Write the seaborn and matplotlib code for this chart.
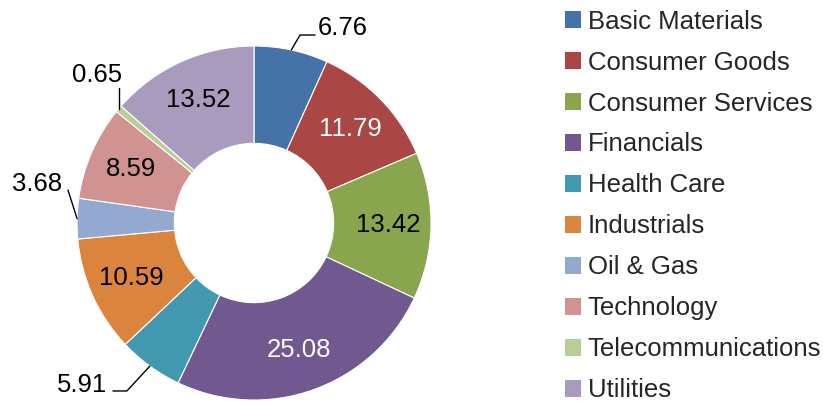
import numpy as np
import matplotlib.pyplot as plt
import seaborn as sns
from matplotlib.patches import Patch

# sector weights (%)
sectors = ["Basic Materials", "Consumer Goods", "Consumer Services", "Financials",
           "Health Care", "Industrials", "Oil & Gas", "Technology",
           "Telecommunications", "Utilities"]
weights = [6.76, 11.79, 13.42, 25.08, 5.91, 10.59, 3.68, 8.59, 0.65, 13.52]
colors = ["#4572A7", "#AA4643", "#89A54E", "#71588F", "#4198AF",
          "#DB843D", "#93A9CF", "#D19392", "#B9CD96", "#A99BBD"]
white_text = ["Consumer Goods", "Financials"]

# labels placed outside the ring: leader knee points and text anchor (radius units)
outside = {
    "Basic Materials": dict(pts=[(0.26, 1.062), (0.345, 1.062)], xy=(0.362, 1.062), ha="left"),
    "Telecommunications": dict(pts=[(None, 0.763)], xy=(-0.887, 0.797), ha="center"),
    "Oil & Gas": dict(pts=[(-1.051, 0.186)], xy=(-1.085, 0.181), ha="right"),
    "Health Care": dict(pts=[(-0.718, -0.949), (-0.797, -0.949)], xy=(-0.83, -0.955), ha="right"),
}

sns.set_style("white")
plt.rcParams['font.family'] = ['Liberation Sans', 'DejaVu Sans']
fs = 18.5

fig = plt.figure(figsize=(8.23, 4.01), dpi=100)
ax = fig.add_axes([77 / 823, 1 / 401, 354 / 823, 354 / 401])

ax.pie(weights, colors=sns.color_palette(colors), startangle=90, counterclock=False,
       radius=1, wedgeprops=dict(width=0.55, edgecolor="white", linewidth=0.8))
ax.set_xlim(-1, 1)
ax.set_ylim(-1, 1)
ax.axis("off")

total = sum(weights)
cum = np.cumsum(weights)
for name, w, c in zip(sectors, weights, cum):
    ang = np.deg2rad(90 - 360 * (c - w / 2) / total)
    ex, ey = np.cos(ang), np.sin(ang)
    if name in outside:
        lay = outside[name]
        xs, ys = [ex], [ey]
        for px, py in lay["pts"]:
            xs.append(ex if px is None else px)
            ys.append(py)
        ax.plot(xs, ys, color="black", lw=1, clip_on=False)
        ax.text(lay["xy"][0], lay["xy"][1], f"{w:.2f}", ha=lay["ha"], va="baseline",
                fontsize=fs, color="black")
    else:
        r = 0.76
        ax.text(r * ex, r * ey, f"{w:.2f}", ha="center", va="center", fontsize=fs,
                color="white" if name in white_text else "black")

handles = [Patch(facecolor=c, edgecolor="none", label=s) for s, c in zip(sectors, colors)]
fig.legend(handles=handles, loc="upper left", bbox_to_anchor=(565 / 823, 0.976),
           frameon=False, fontsize=fs, handlelength=0.64, handleheight=0.64,
           handletextpad=0.25, labelspacing=0.66, borderpad=0, borderaxespad=0)

fig.savefig("out.png", dpi=100)
